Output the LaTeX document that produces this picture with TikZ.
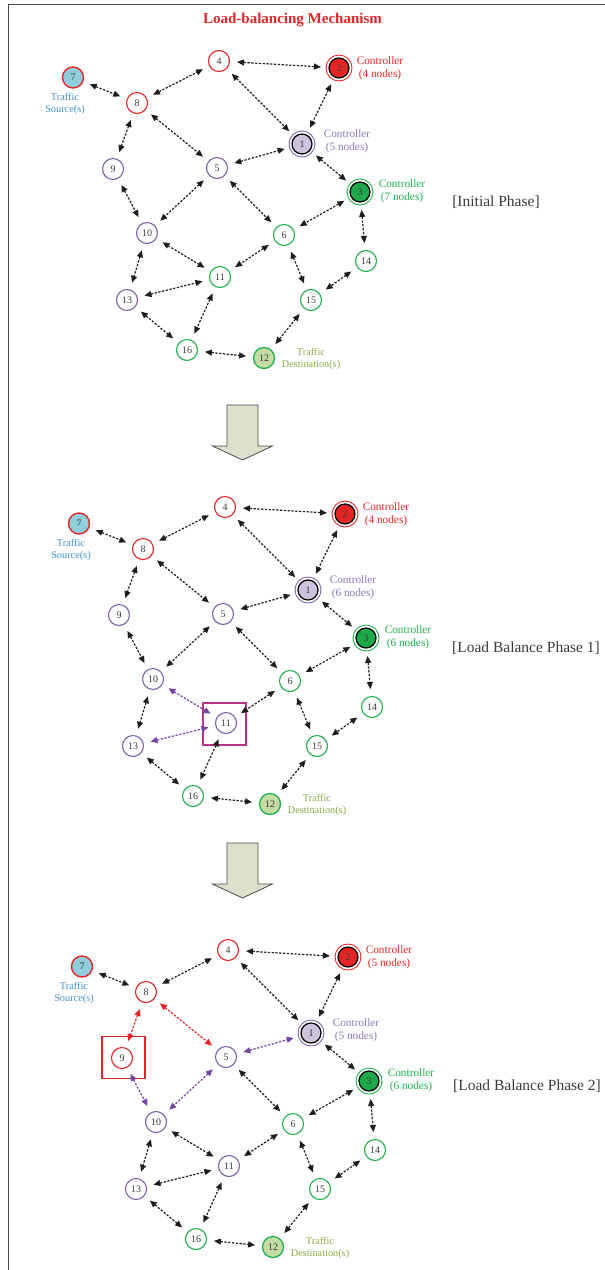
\documentclass[tikz,border=0pt]{standalone}
\usepackage{fontspec}
\setmainfont{Liberation Serif}
\usetikzlibrary{arrows.meta}

\definecolor{cred}{HTML}{E42526}
\definecolor{cpur}{HTML}{7E62A8}
\definecolor{cpurtxt}{HTML}{8C77B5}
\definecolor{clav}{HTML}{CBC3DD}
\definecolor{cgrn}{HTML}{1FAF4B}
\definecolor{cgrnfill}{HTML}{1DA84A}
\definecolor{csrc}{HTML}{8FCFDB}
\definecolor{csrctxt}{HTML}{3F8FCB}
\definecolor{cdst}{HTML}{C4DCA3}
\definecolor{cdsttxt}{HTML}{8BA944}
\definecolor{numgray}{HTML}{3A3A3A}
\definecolor{linkc}{HTML}{1E1E1E}
\definecolor{cpurlink}{HTML}{7445A0}
\definecolor{cmag}{HTML}{B5338A}
\definecolor{blockfill}{HTML}{DDE1CB}
\definecolor{framec}{HTML}{4A4A4A}

\begin{document}
\begin{tikzpicture}[x=1pt,y=-1pt,
  numfont/.style={font=\fontsize{10}{10}\selectfont, text=numgray},
  rnode/.style={circle, draw=#1, line width=1.1pt, minimum size=21pt, inner sep=0pt,
    fill=white, outer sep=7.5pt, numfont},
  srcnode/.style={rnode=cred, fill=csrc, line width=1.4pt},
  dstnode/.style={rnode=cgrn, fill=cdst, line width=1.3pt},
  ctrl/.style 2 args={circle, draw=#1, line width=0.9pt, minimum size=26pt, inner sep=0pt,
    outer sep=5pt, numfont,
    path picture={\draw[black, line width=1.2pt, fill=#2]
      (path picture bounding box.center) circle (10pt);}},
  conn/.style={draw=#1, line width=1.2pt, dash pattern=on 2.3pt off 1.5pt,
    {Triangle[length=7pt,width=6pt]}-{Triangle[length=7pt,width=6pt]}},
  conn/.default=linkc,
  ctrltext/.style={text=#1, align=center, font=\fontsize{11.3}{13}\selectfont},
  traffictext/.style={text=#1, align=center, font=\fontsize{10.3}{11.5}\selectfont},
  phase/.style={text=numgray, font=\fontsize{15.5}{17}\selectfont},
  hibox/.style={draw=#1, line width=1.6pt, minimum width=43pt, minimum height=42pt, inner sep=0pt},
  blockarrow/.style={fill=blockfill, draw=framec, line width=0.8pt, line join=miter}
]
\useasboundingbox (0,0) rectangle (605,1270);

% frame
\draw[framec, line width=1.2pt] (8.5,1275) -- (8.5,4.5) -- (610,4.5);

% title
\node[text=cred, font=\bfseries\fontsize{15}{17}\selectfont] (title) at (292.5,20) {Load-balancing Mechanism};

% ---------------- initial phase ----------------
\begin{scope}
  \foreach \n/\px/\py/\c in {4/219/61/cred, 8/137/103/cred, 9/113/169/cpur, 5/217/168/cpur,
      10/147/233/cpur, 13/127/300/cpur, 6/284/235/cgrn, 11/220/277/cgrn,
      14/366/261/cgrn, 15/311/300/cgrn, 16/187/350/cgrn}
    \node[rnode=\c] (a\n) at (\px,\py) {\n};
  \node[srcnode] (a7) at (73,77.5) {7};
  \node[dstnode] (a12) at (264,358) {12};
  \node[ctrl={cred}{cred}] (a2) at (339,68) {2};
  \node[ctrl={cpur}{clav}] (a1) at (302,144) {1};
  \node[ctrl={cgrn}{cgrnfill}] (a3) at (360,192) {3};

  \foreach \u/\v in {7/8, 8/4, 4/2, 4/1, 2/1, 8/5, 8/9, 5/1, 1/3, 9/10, 5/10, 5/6, 3/6,
      3/14, 10/11, 6/11, 10/13, 13/11, 11/16, 6/15, 14/15, 13/16, 16/12, 15/12}
    \draw[conn] (a\u) -- (a\v);

  \node[ctrltext=cred] (a2lab) at (380,68) {Controller\\(4 nodes)};
  \node[ctrltext=cpurtxt] (a1lab) at (347,141) {Controller\\(5 nodes)};
  \node[ctrltext=cgrn] (a3lab) at (402,191) {Controller\\(7 nodes)};
  \node[traffictext=csrctxt] (a7lab) at (65,104) {Traffic\\Source(s)};
  \node[traffictext=cdsttxt] (a12lab) at (311,359) {Traffic\\Destination(s)};
  \node[phase] (aphase) at (496,202) {[Initial Phase]};
\end{scope}

% transition arrows
\draw[blockarrow] (227,405) -- (258,405) -- (258,446) -- (272.5,446) -- (242.5,460)
  -- (212.5,446) -- (227,446) -- cycle;
\begin{scope}[shift={(0,438)}]
\draw[blockarrow] (227,405) -- (258,405) -- (258,446) -- (272.5,446) -- (242.5,460)
  -- (212.5,446) -- (227,446) -- cycle;
\end{scope}

% ---------------- load balance phase 1 ----------------
\begin{scope}[shift={(6,446)}]
  \foreach \n/\px/\py/\c in {4/219/61/cred, 8/137/103/cred, 9/113/169/cpur, 5/217/168/cpur,
      10/147/233/cpur, 13/127/300/cpur, 6/284/235/cgrn, 11/220/277/cpur,
      14/366/261/cgrn, 15/311/300/cgrn, 16/187/350/cgrn}
    \node[rnode=\c] (b\n) at (\px,\py) {\n};
  \node[srcnode] (b7) at (73,77.5) {7};
  \node[dstnode] (b12) at (264,358) {12};
  \node[ctrl={cred}{cred}] (b2) at (339,68) {2};
  \node[ctrl={cpur}{clav}] (b1) at (302,144) {1};
  \node[ctrl={cgrn}{cgrnfill}] (b3) at (360,192) {3};

  \node[hibox=cmag] (b11box) at (218.5,278) {};

  \foreach \u/\v in {7/8, 8/4, 4/2, 4/1, 2/1, 8/5, 8/9, 5/1, 1/3, 9/10, 5/10, 5/6, 3/6,
      3/14, 6/11, 10/13, 11/16, 6/15, 14/15, 13/16, 16/12, 15/12}
    \draw[conn] (b\u) -- (b\v);
  \draw[conn=cpurlink] (b10) -- (b11);
  \draw[conn=cpurlink] (b13) -- (b11);

  \node[ctrltext=cred] (b2lab) at (380,68) {Controller\\(4 nodes)};
  \node[ctrltext=cpurtxt] (b1lab) at (347,141) {Controller\\(6 nodes)};
  \node[ctrltext=cgrn] (b3lab) at (402,191) {Controller\\(6 nodes)};
  \node[traffictext=csrctxt] (b7lab) at (65,104) {Traffic\\Source(s)};
  \node[traffictext=cdsttxt] (b12lab) at (311,359) {Traffic\\Destination(s)};
  \node[phase] (bphase) at (520,202) {[Load Balance Phase 1]};
\end{scope}

% ---------------- load balance phase 2 ----------------
\begin{scope}[shift={(9,889)}]
  \foreach \n/\px/\py/\c in {4/219/61/cred, 8/137/103/cred, 9/113/169/cred, 5/217/168/cpur,
      10/147/233/cpur, 13/127/300/cpur, 6/284/235/cgrn, 11/220/277/cpur,
      14/366/261/cgrn, 15/311/300/cgrn, 16/187/350/cgrn}
    \node[rnode=\c] (c\n) at (\px,\py) {\n};
  \node[srcnode] (c7) at (73,77.5) {7};
  \node[dstnode] (c12) at (264,358) {12};
  \node[ctrl={cred}{cred}] (c2) at (339,68) {2};
  \node[ctrl={cpur}{clav}] (c1) at (302,144) {1};
  \node[ctrl={cgrn}{cgrnfill}] (c3) at (360,192) {3};

  \node[hibox=cred] (c9box) at (114.5,168.5) {};

  \foreach \u/\v in {7/8, 8/4, 4/2, 4/1, 2/1, 1/3, 5/6, 3/6,
      3/14, 10/11, 6/11, 10/13, 13/11, 11/16, 6/15, 14/15, 13/16, 16/12, 15/12}
    \draw[conn] (c\u) -- (c\v);
  \draw[conn=cred] (c8) -- (c9);
  \draw[conn=cred] (c8) -- (c5);
  \draw[conn=cpurlink] (c5) -- (c1);
  \draw[conn=cpurlink] (c9) -- (c10);
  \draw[conn=cpurlink] (c5) -- (c10);

  \node[ctrltext=cred] (c2lab) at (380,68) {Controller\\(5 nodes)};
  \node[ctrltext=cpurtxt] (c1lab) at (347,141) {Controller\\(5 nodes)};
  \node[ctrltext=cgrn] (c3lab) at (402,191) {Controller\\(6 nodes)};
  \node[traffictext=csrctxt] (c7lab) at (65,104) {Traffic\\Source(s)};
  \node[traffictext=cdsttxt] (c12lab) at (311,359) {Traffic\\Destination(s)};
  \node[phase] (cphase) at (518,197) {[Load Balance Phase 2]};
\end{scope}
\end{tikzpicture}
\end{document}
